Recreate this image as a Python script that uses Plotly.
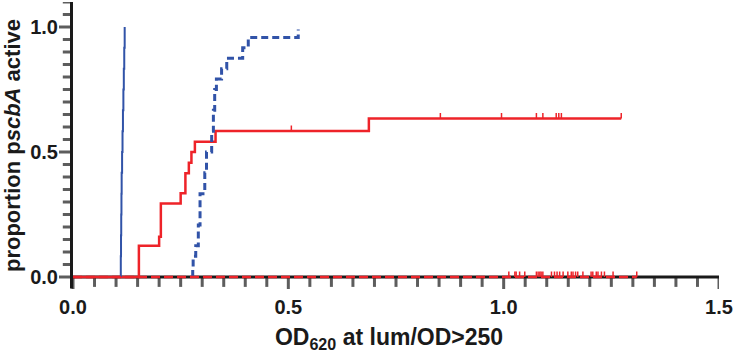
import numpy as np
import plotly.graph_objects as go

# step curves (x = OD620, y = proportion active)
blue_solid_x = [0.111, 0.111, 0.1115, 0.112, 0.1125, 0.113, 0.114, 0.115, 0.116, 0.117, 0.118, 0.119, 0.120]
blue_solid_y = [0.0, 0.083, 0.167, 0.25, 0.333, 0.417, 0.5, 0.583, 0.667, 0.75, 0.833, 0.917, 1.0]

blue_dash_x = [0.278, 0.278, 0.279, 0.285, 0.291, 0.295, 0.306, 0.310, 0.322, 0.326, 0.329, 0.333,
               0.345, 0.357, 0.394, 0.407, 0.523]
blue_dash_y = [0.0, 0.042, 0.083, 0.125, 0.208, 0.333, 0.417, 0.5, 0.583, 0.667, 0.75, 0.792,
               0.833, 0.875, 0.917, 0.958, 0.99]

red_x = [0.0, 0.153, 0.200, 0.204, 0.250, 0.261, 0.269, 0.275, 0.283, 0.331, 0.687, 1.273]
red_y = [0.0, 0.125, 0.161, 0.294, 0.335, 0.415, 0.457, 0.5, 0.541, 0.584, 0.634, 0.634]
red_censored = [0.507, 0.853, 0.995, 1.076, 1.091, 1.122, 1.128, 1.134, 1.273]

# second red group never became active: flat at 0, censored only
red0_x = [0.0, 1.309]
red0_y = [0.0, 0.0]
red0_censored = [1.012, 1.026, 1.029, 1.037, 1.049, 1.076, 1.080, 1.084, 1.087, 1.091, 1.111, 1.118,
                 1.124, 1.130, 1.138, 1.149, 1.157, 1.161, 1.167, 1.172, 1.184, 1.203, 1.207, 1.215,
                 1.219, 1.227, 1.234, 1.254, 1.309]

# axis ticks
x_major = [0.0, 0.5, 1.0, 1.5]
x_labels = ["0.0", "0.5", "1.0", "1.5"]
y_major = [0.0, 0.5, 1.0]
y_labels = ["0.0", "0.5", "1.0"]
x_minor = [round(0.05 * i, 2) for i in range(31)]
y_minor = [round(0.05 * i, 2) for i in range(23)]

RED = "#ee2329"
BLUE = "#3153a8"
INK = "#1a1a1a"
TICK_H = 0.022  # height of censor tick marks

X_RANGE = [-0.0325, 1.5]
Y_RANGE = [-0.048, 1.1]
PX_X = 431.0   # px per x unit
PX_Y = 250.0   # px per y unit


def censor_segments(xs, step_x, step_y):
    # small upward ticks sitting on the step curve
    sx, sy = [], []
    for c in xs:
        i = int(np.searchsorted(step_x, c, side="right")) - 1
        level = float(step_y[max(i, 0)])
        sx += [c, c, None]
        sy += [level, level + TICK_H, None]
    return sx, sy


fig = go.Figure()

# axis lines
fig.add_trace(go.Scatter(x=[0, 1.5], y=[0, 0], mode="lines",
                         line=dict(color=INK, width=3), hoverinfo="skip"))
fig.add_trace(go.Scatter(x=[-1.5 / PX_X, -1.5 / PX_X], y=[-11.5 / PX_Y, 1.1], mode="lines",
                         line=dict(color=INK, width=3), hoverinfo="skip"))

# x ticks as marker glyphs hanging below y=0
x_tick_len = [11 if v in x_major else 7 for v in x_minor]
fig.add_trace(go.Scatter(
    x=x_minor, y=[-(L / 2 + 1.5) / PX_Y for L in x_tick_len], mode="markers",
    marker=dict(symbol="line-ns", size=x_tick_len, line=dict(color=INK, width=3)),
    hoverinfo="skip"))
# y ticks as marker glyphs left of x=0
y_tick_len = [10 if v in y_major else 6 for v in y_minor]
fig.add_trace(go.Scatter(
    x=[-(L / 2 + 3) / PX_X for L in y_tick_len], y=y_minor, mode="markers",
    marker=dict(symbol="line-ew", size=y_tick_len, line=dict(color=INK, width=3)),
    hoverinfo="skip"))

fig.add_trace(go.Scatter(x=red_x, y=red_y, mode="lines", line_shape="hv",
                         line=dict(color=RED, width=2.5)))
cx, cy = censor_segments(red_censored, red_x, red_y)
fig.add_trace(go.Scatter(x=cx, y=cy, mode="lines", line=dict(color=RED, width=1.5)))

fig.add_trace(go.Scatter(x=blue_solid_x, y=blue_solid_y, mode="lines", line_shape="hv",
                         line=dict(color=BLUE, width=2)))
fig.add_trace(go.Scatter(x=blue_dash_x, y=blue_dash_y, mode="lines", line_shape="hv",
                         line=dict(color=BLUE, width=3, dash="7px,4px")))

fig.add_trace(go.Scatter(x=red0_x, y=red0_y, mode="lines",
                         line=dict(color=RED, width=2.5, dash="9px,4px")))
cx0, cy0 = censor_segments(red0_censored, red0_x, red0_y)
fig.add_trace(go.Scatter(x=cx0, y=cy0, mode="lines", line=dict(color=RED, width=1.5)))

tickfont = dict(family="Liberation Sans", size=20, color=INK)

fig.update_layout(
    width=735, height=353,
    margin=dict(l=59, r=15.5, t=2, b=64),
    plot_bgcolor="white", paper_bgcolor="white",
    showlegend=False,
    xaxis=dict(
        range=X_RANGE, tickvals=x_major, ticktext=["<b>%s</b>" % t for t in x_labels],
        showgrid=False, zeroline=False, showline=False, automargin=False,
        ticks="", tickfont=tickfont, ticklabelstandoff=4,
        title=dict(text="<b>OD<sub>620</sub> at lum/OD&gt;250</b>", standoff=16,
                   font=dict(family="Liberation Sans", size=23, color=INK)),
    ),
    yaxis=dict(
        range=Y_RANGE, tickvals=y_major, ticktext=["<b>%s</b>" % t for t in y_labels],
        showgrid=False, zeroline=False, showline=False, automargin=False,
        ticks="", tickfont=tickfont, ticklabelstandoff=0,
        title=dict(text="<b>proportion p<i>scbA</i> active</b>", standoff=12,
                   font=dict(family="Liberation Sans", size=22, color=INK)),
    ),
)

fig.write_html("out.html", config={"displayModeBar": False},
               post_script="document.body.style.margin='0';")
